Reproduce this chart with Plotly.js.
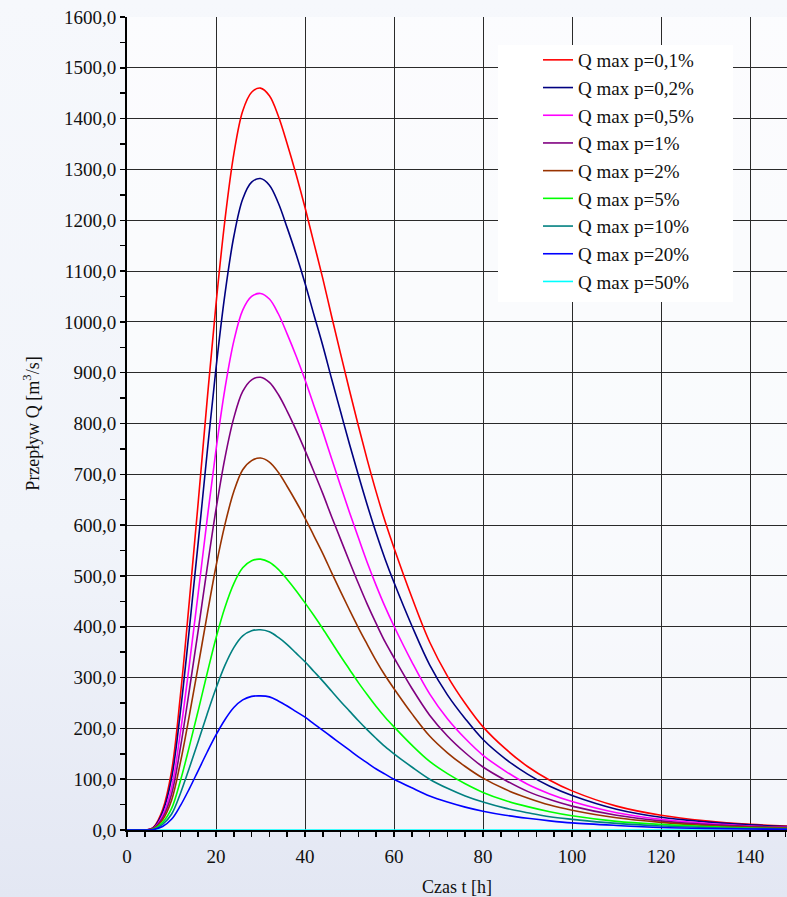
<!DOCTYPE html>
<html>
<head>
<meta charset="utf-8">
<script src="https://cdn.plot.ly/plotly-3.0.1.min.js"></script>
<style>
  html, body { margin: 0; padding: 0; }
  body { width: 787px; height: 897px; background: linear-gradient(180deg, #f6f8fc 0%, #f1f4fa 60%, #e3e7f3 100%); }
  #chart { width: 787px; height: 897px; }
</style>
</head>
<body>
<div id="chart"></div>
<script>
// time [h]
const timeH = [0,4,5,6,8,10,12,14,16,18,20,22,24,26,28,30,32,34,36,38,40,
               42,44,46,48,50,52,54,56,58,60,
               64,68,72,76,80,
               85,90,95,100,
               110,120,130,140,150];

const seriesNames = ["Q max p=0,1%","Q max p=0,2%","Q max p=0,5%","Q max p=1%","Q max p=2%","Q max p=5%","Q max p=10%","Q max p=20%","Q max p=50%"];
const seriesColors = ["#ff0000","#000080","#ff00ff","#800080","#993300","#00ff00","#008080","#0000ff","#00ffff"];

const qP01 = [0,0,1,6,40,115,265,450,645,845,1035,1200,1330,1415,1452,1460,1445,1405,1350,1290,1225,
              1155,1085,1010,937,865,795,728,665,607,555,
              458,370,303,249,203,
              160,125,98,77,
              47,29,18,11,7];
const qP02 = [0,0,1,5,35,101,233,395,566,742,909,1054,1168,1242,1275,1282,1269,1234,1185,1133,1076,
              1014,953,887,823,759,698,639,584,533,487,
              402,325,266,219,178,
              140,110,86,68,
              41,25,16,10,6];
const qP05 = [0,0,1,4,29,83,192,325,466,611,748,868,962,1023,1050,1056,1045,1016,976,933,886,
              835,784,730,677,625,575,526,481,439,401,
              331,268,219,180,147,
              116,90,71,56,
              34,21,13,8,5];
const qP1  = [0,0,1,4,24,70,162,275,393,515,631,732,811,863,886,891,881,857,824,787,747,
              705,662,616,572,528,485,444,406,370,339,
              279,226,185,152,124,
              98,76,60,47,
              29,18,11,7,4];
const qP2  = [0,0,1,3,20,58,133,225,323,423,519,601,666,709,727,732,724,704,676,646,614,
              579,544,506,469,433,398,365,333,304,278,
              229,185,152,125,102,
              80,63,49,39,
              24,15,9,6,4];
const qP5  = [0,0,0,2,15,42,97,164,235,308,378,438,485,516,530,533,527,513,493,471,447,
              422,396,369,342,316,290,266,243,222,203,
              167,135,111,91,74,
              58,46,36,28,
              17,11,7,4,3];
const qP10 = [0,0,0,1,11,31,72,122,174,228,279,324,359,382,392,394,390,379,365,348,331,
              312,293,273,253,234,215,197,180,164,150,
              124,100,82,67,55,
              43,34,26,21,
              13,8,5,3,2];
const qP20 = [0,0,0,1,7,21,48,81,117,153,187,217,241,256,263,264,262,254,244,233,222,
              209,196,183,170,157,144,132,120,110,100,
              83,67,55,45,37,
              29,23,18,14,
              9,5,3,2,1];
// p=50% curve lies on the time axis (not visible in the reference)
const qP50 = [0,0,0,0,0,0,0,0,0,0,0,0,0,0,0,0,0,0,0,0,0,
              0,0,0,0,0,0,0,0,0,0,
              0,0,0,0,0,
              0,0,0,0,
              0,0,0,0,0];

const allQ = [qP01,qP02,qP05,qP1,qP2,qP5,qP10,qP20,qP50];

// draw the p=50% trace first (underneath), keep legend order
const order = [8,0,1,2,3,4,5,6,7];
const traces = order.map(i => ({
  type: 'scatter',
  mode: 'lines',
  name: seriesNames[i],
  legendrank: i + 1,
  x: timeH,
  y: allQ[i],
  line: { color: seriesColors[i], width: 1.6, shape: 'spline', smoothing: 1 }
}));

const serif = "Times New Roman, serif";

// plot area geometry in px (for shape placement)
const L = 127, T = 17, R = 0, B = 67, W = 787, H = 897;
const pw = W - L - R, ph = H - T - B;
const px2x = p => (p - L) / pw;
const py2y = p => (H - B - p) / ph;

const layout = {
  width: W, height: H,
  margin: { l: L, r: R, t: T, b: B, pad: 0 },
  paper_bgcolor: 'rgba(0,0,0,0)',
  plot_bgcolor: 'rgba(255,255,255,0.55)',
  separators: ',.',
  font: { family: serif, size: 19, color: '#111' },
  showlegend: true,
  legend: {
    x: px2x(538), y: py2y(41), xanchor: 'left', yanchor: 'top',
    bgcolor: 'rgba(0,0,0,0)', borderwidth: 0,
    traceorder: 'normal',
    font: { family: serif, size: 19, color: '#111' }
  },
  xaxis: {
    range: [0, 148.3],
    dtick: 20, tick0: 0,
    ticks: 'outside', ticklen: 5, tickwidth: 1.5, tickcolor: '#000',
    ticklabelstandoff: 3,
    showgrid: true, gridcolor: '#2a2a2a', gridwidth: 1,
    zeroline: false,
    showline: true, linecolor: '#000', linewidth: 2,
    minor: { dtick: 4, ticks: 'outside', ticklen: 5, tickwidth: 1.5, tickcolor: '#000', showgrid: false },
    tickfont: { family: serif, size: 19, color: '#111' },
    title: { text: 'Czas t [h]', font: { family: serif, size: 18, color: '#111' }, standoff: 20 }
  },
  yaxis: {
    range: [0, 1600],
    dtick: 100, tick0: 0,
    tickformat: '.1f',
    ticks: 'outside', ticklen: 5, tickwidth: 1.5, tickcolor: '#000',
    showgrid: true, gridcolor: '#2a2a2a', gridwidth: 1,
    zeroline: false,
    showline: true, linecolor: '#000', linewidth: 2,
    minor: { dtick: 50, ticks: 'outside', ticklen: 5, tickwidth: 1.5, tickcolor: '#000', showgrid: false },
    tickfont: { family: serif, size: 19, color: '#111' },
    title: { text: 'Przepływ Q [m<sup>3</sup>/s]', font: { family: serif, size: 18, color: '#111' }, standoff: 20 }
  },
  shapes: [{
    type: 'rect', xref: 'paper', yref: 'paper', layer: 'above',
    x0: px2x(498), x1: px2x(733), y0: py2y(302), y1: py2y(45),
    fillcolor: '#ffffff', line: { width: 0 }
  }]
};

Plotly.newPlot('chart', traces, layout, { displayModeBar: false, staticPlot: true });
</script>
</body>
</html>
